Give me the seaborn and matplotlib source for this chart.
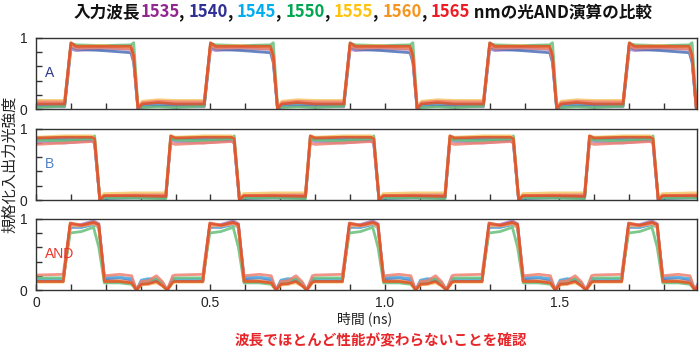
import numpy as np
import pandas as pd
import matplotlib
matplotlib.use('Agg')
import matplotlib.pyplot as plt
import seaborn as sns

# wavelengths (nm) and colours
wavelengths = [1535, 1540, 1545, 1550, 1555, 1560, 1565]
trace_colors = ['#a783cc', '#4d70b6', '#5bb3e6', '#66bf78', '#f5c766', '#ef8070', '#dd5027']
title_colors = ['#92278f', '#2e3192', '#00aeef', '#00a651', '#ffc20e', '#f7941d', '#ed1c24']

period = 0.4   # ns, pattern repeats
n_periods = 5

# signal A: knots of one period (ns) and level of each wavelength at the knots
a_times = [0.000, 0.082, 0.100, 0.115, 0.190, 0.272, 0.280, 0.292, 0.305, 0.350, 0.399]
a_levels = {
    1535: [0.03, 0.03, 0.84, 0.82, 0.84, 0.84, 0.70, 0.00, 0.03, 0.04, 0.03],
    1540: [0.05, 0.05, 0.88, 0.84, 0.82, 0.79, 0.65, 0.01, 0.05, 0.06, 0.05],
    1545: [0.07, 0.07, 0.90, 0.87, 0.86, 0.85, 0.70, 0.01, 0.06, 0.08, 0.07],
    1550: [0.02, 0.04, 0.92, 0.90, 0.89, 0.90, 0.93, 0.05, 0.02, 0.03, 0.02],
    1555: [0.12, 0.12, 0.90, 0.88, 0.89, 0.86, 0.75, 0.03, 0.11, 0.13, 0.12],
    1560: [0.10, 0.10, 0.89, 0.85, 0.86, 0.84, 0.70, 0.02, 0.09, 0.11, 0.10],
    1565: [0.07, 0.07, 0.93, 0.88, 0.88, 0.88, 0.75, 0.01, 0.07, 0.09, 0.07],
}

# signal B
b_times = [0.000, 0.080, 0.160, 0.168, 0.183, 0.195, 0.280, 0.368, 0.372, 0.386, 0.399]
b_levels = {
    1535: [0.82, 0.80, 0.83, 0.83, 0.00, 0.04, 0.05, 0.08, 0.08, 0.84, 0.82],
    1540: [0.86, 0.85, 0.84, 0.80, 0.00, 0.02, 0.03, 0.03, 0.03, 0.86, 0.86],
    1545: [0.88, 0.87, 0.86, 0.80, 0.00, 0.04, 0.05, 0.04, 0.04, 0.88, 0.88],
    1550: [0.84, 0.83, 0.86, 0.90, 0.02, 0.03, 0.03, 0.02, 0.02, 0.86, 0.84],
    1555: [0.88, 0.90, 0.90, 0.85, 0.01, 0.09, 0.10, 0.10, 0.10, 0.90, 0.88],
    1560: [0.78, 0.80, 0.82, 0.80, 0.00, 0.06, 0.07, 0.07, 0.07, 0.80, 0.78],
    1565: [0.87, 0.88, 0.88, 0.86, 0.00, 0.06, 0.06, 0.05, 0.05, 0.90, 0.87],
}

# AND output
and_times = [0.000, 0.078, 0.098, 0.130, 0.165, 0.180, 0.196, 0.240, 0.274, 0.288,
             0.302, 0.322, 0.345, 0.362, 0.376, 0.392, 0.399]
and_levels = {
    1535: [0.13, 0.13, 0.88, 0.92, 0.97, 0.93, 0.15, 0.13, 0.12, 0.00, 0.09, 0.08, 0.14, 0.07, 0.00, 0.12, 0.13],
    1540: [0.12, 0.12, 0.88, 0.88, 0.92, 0.88, 0.16, 0.17, 0.15, 0.00, 0.13, 0.15, 0.14, 0.10, 0.00, 0.15, 0.13],
    1545: [0.15, 0.15, 0.90, 0.88, 0.93, 0.88, 0.18, 0.18, 0.16, 0.00, 0.14, 0.16, 0.15, 0.10, 0.00, 0.17, 0.15],
    1550: [0.17, 0.17, 0.80, 0.82, 0.88, 0.60, 0.10, 0.10, 0.08, 0.00, 0.10, 0.12, 0.16, 0.10, 0.00, 0.12, 0.17],
    1555: [0.11, 0.11, 0.90, 0.90, 0.93, 0.88, 0.12, 0.13, 0.10, 0.00, 0.07, 0.08, 0.10, 0.06, 0.00, 0.10, 0.11],
    1560: [0.21, 0.22, 0.92, 0.90, 0.94, 0.90, 0.20, 0.22, 0.20, 0.00, 0.12, 0.13, 0.20, 0.12, 0.00, 0.20, 0.21],
    1565: [0.12, 0.12, 0.94, 0.91, 0.95, 0.92, 0.12, 0.12, 0.10, 0.00, 0.08, 0.09, 0.12, 0.06, 0.00, 0.11, 0.12],
}

panel_labels = ['A', 'B', 'AND']
panel_label_colors = ['#2e3a87', '#4f7fc0', '#e8352a']
x_max = 1.894


def build_frame(times, levels):
    rows = []
    for wl in wavelengths:
        for k in range(n_periods):
            for t, v in zip(times, levels[wl]):
                rows.append((t + k * period, v, str(wl)))
    return pd.DataFrame(rows, columns=['time', 'level', 'wl'])


panels = [build_frame(a_times, a_levels),
          build_frame(b_times, b_levels),
          build_frame(and_times, and_levels)]

sns.set_theme(style='ticks')
plt.rcParams['font.family'] = ['Liberation Sans', 'Noto Sans CJK JP', 'DejaVu Sans']

fig = plt.figure(figsize=(7, 3.52), dpi=100)
bottoms = [0.6903, 0.4318, 0.1761]
axes = [fig.add_axes([0.0514, b, 0.9443, 0.2025]) for b in bottoms]

hue_order = [str(w) for w in wavelengths]
for i, (ax, df) in enumerate(zip(axes, panels)):
    sns.lineplot(data=df, x='time', y='level', hue='wl', hue_order=hue_order,
                 palette=trace_colors, sort=False, estimator=None,
                 lw=2.0, alpha=0.85, legend=False, ax=ax)
    ax.set_xlim(0, x_max)
    ax.set_ylim(0, 1)
    ax.set_xticks([0, 0.5, 1.0, 1.5])
    ax.set_xticks(np.arange(0.1, 1.9, 0.1), minor=True)
    ax.set_yticks([0, 1])
    ax.set_yticks([0.2, 0.4, 0.6, 0.8], minor=True)
    ax.set_yticklabels(['0', '1'])
    ax.tick_params(which='both', direction='in', length=4, width=1, color='#333333',
                   top=False, right=False, labelsize=10, colors='#222222')
    ax.tick_params(axis='y', pad=6)
    ax.tick_params(axis='x', pad=4)
    if i < 2:
        ax.set_xticklabels([])
    else:
        ax.set_xticklabels(['0', '0.5', '1.0', '1.5'])
    ax.set_xlabel('')
    ax.set_ylabel('')
    for s in ax.spines.values():
        s.set_visible(True)
        s.set_color('#333333')
        s.set_linewidth(1.0)
    ax.text(0.014, 0.5, panel_labels[i], transform=ax.transAxes,
            color=panel_label_colors[i], fontsize=10, va='center', ha='left')

fig.text(0.014, 0.534, '規格化入出力光強度', rotation=90, ha='center', va='center',
         fontsize=11, family=['Noto Sans CJK JP'], color='#222222')
fig.text(0.521, 0.094, '時間 (ns)', ha='center', va='center', fontsize=10,
         family=['Noto Sans CJK JP'], color='#222222')
fig.text(0.544, 0.034, '波長でほとんど性能が変わらないことを確認', ha='center', va='center',
         fontsize=10.5, fontweight='bold', family=['Noto Sans CJK JP'], color='#e8262a')

# multi-coloured title
pieces = [('入力波長', '#111111')]
for j, (wl, c) in enumerate(zip(wavelengths, title_colors)):
    pieces.append((str(wl), c))
    if j < len(wavelengths) - 1:
        pieces.append((', ', '#111111'))
pieces.append((' nmの光AND演算の比較', '#111111'))

fig.canvas.draw()
renderer = fig.canvas.get_renderer()
texts = []
widths = []
for s, c in pieces:
    t = fig.text(0, 0.966, s, color=c, fontsize=12, fontweight='bold',
                 family=['Noto Sans CJK JP'], ha='left', va='center')
    widths.append(t.get_window_extent(renderer).width)
    texts.append(t)
total = sum(widths)
x0 = 363 - total / 2
for t, w in zip(texts, widths):
    t.set_x(x0 / 700)
    x0 += w

fig.savefig('out.png', dpi=100)
